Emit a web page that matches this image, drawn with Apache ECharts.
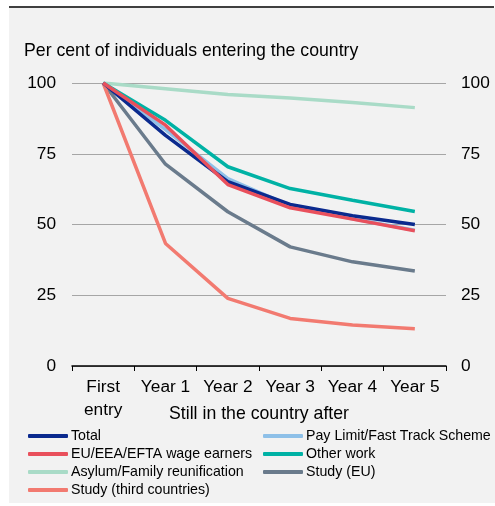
<!DOCTYPE html>
<html>
<head>
<meta charset="utf-8">
<script src="https://cdn.jsdelivr.net/npm/echarts@6/dist/echarts.min.js"></script>
<style>
    html, body { margin: 0; padding: 0; background: #fff; }
    #chart { width: 495px; height: 506px; }
</style>
</head>
<body>
<div id="chart"></div>
<script>
// categories and values
var categories = ['First\nentry', 'Year 1', 'Year 2', 'Year 3', 'Year 4', 'Year 5'];
var total = [100, 81.5, 65.1, 57.1, 53.1, 50.0];
var payLimit = [100, 83.5, 66.2, 56.6, 52.0, 48.0];
var euWage = [100, 85.1, 64.1, 55.9, 51.9, 47.8];
var otherWork = [100, 86.8, 70.4, 62.7, 58.6, 54.6];
var asylum = [100, 98.0, 95.9, 94.7, 93.1, 91.3];
var studyEU = [100, 71.3, 54.5, 42.1, 36.8, 33.6];
var studyThird = [100, 43.3, 23.9, 16.8, 14.5, 13.2];

var font = '"Liberation Sans", Arial, sans-serif';

(function() {
    var chart = echarts.init(document.getElementById('chart'));

    function line(name, data, color, z) {
        return {
            name: name,
            type: 'line',
            data: data,
            symbol: 'none',
            z: z,
            lineStyle: { color: color, width: 3.5 },
            itemStyle: { color: color }
        };
    }

    var legendBase = {
        orient: 'vertical',
        top: 427,
        height: 80,
        padding: 0,
        icon: 'roundRect',
        itemWidth: 40,
        itemHeight: 4,
        itemGap: 0,
        selectedMode: false,
        textStyle: { fontFamily: font, fontSize: 14.2, color: '#000', lineHeight: 18, padding: [0, 0, 0, -2] }
    };

    var option = {
        animation: false,
        backgroundColor: '#fff',
        textStyle: { fontFamily: font },
        graphic: [{
            type: 'rect',
            shape: { x: 9, y: 8, width: 486, height: 495 },
            style: { fill: '#f2f2f2' },
            z: -10
        }, {
            type: 'line',
            shape: { x1: 9, y1: 7, x2: 494, y2: 7 },
            style: { stroke: '#000', lineWidth: 1.5 },
            z: -9
        }],
        title: {
            text: 'Per cent of individuals entering the country',
            left: 24,
            top: 42,
            padding: 0,
            textStyle: { fontFamily: font, fontSize: 17.7, fontWeight: 'normal', color: '#000' }
        },
        legend: [
            Object.assign({}, legendBase, { left: 28, data: ['Total', 'EU/EEA/EFTA wage earners', 'Asylum/Family reunification', 'Study (third countries)'] }),
            Object.assign({}, legendBase, { left: 263, data: ['Pay Limit/Fast Track Scheme', 'Other work', 'Study (EU)'] })
        ],
        grid: { left: 72, right: 49, top: 83, bottom: 140 },
        xAxis: {
            type: 'category',
            data: categories,
            boundaryGap: true,
            name: 'Still in the country after',
            nameLocation: 'middle',
            nameGap: 39,
            nameMoveOverlap: false,
            nameTextStyle: { fontFamily: font, fontSize: 17.7, color: '#000' },
            axisLine: { lineStyle: { color: '#000', width: 1.5 } },
            axisTick: { show: true, length: 5, alignWithLabel: false, lineStyle: { color: '#000' } },
            axisLabel: { fontFamily: font, fontSize: 17.3, color: '#000', margin: 10, lineHeight: 23, interval: 0 }
        },
        yAxis: [{
            type: 'value',
            min: 0,
            max: 100,
            interval: 25,
            axisLine: { show: false },
            axisTick: { show: false },
            splitLine: { lineStyle: { color: '#a6a6a6', width: 1 } },
            axisLabel: { fontFamily: font, fontSize: 17.3, color: '#000', margin: 16 }
        }, {
            type: 'value',
            position: 'right',
            min: 0,
            max: 100,
            interval: 25,
            axisLine: { show: false },
            axisTick: { show: false },
            splitLine: { show: false },
            axisLabel: { fontFamily: font, fontSize: 17.3, color: '#000', margin: 15 }
        }],
        series: [
            line('Total', total, '#0b2a8e', 5),
            line('Pay Limit/Fast Track Scheme', payLimit, '#8ec0e8', 4),
            line('EU/EEA/EFTA wage earners', euWage, '#e9505c', 6),
            line('Other work', otherWork, '#00b2a5', 3),
            line('Asylum/Family reunification', asylum, '#a9dbc7', 2),
            line('Study (EU)', studyEU, '#6a7b8c', 2),
            line('Study (third countries)', studyThird, '#f27a70', 2)
        ]
    };
    chart.setOption(option);
})();
</script>
</body>
</html>
